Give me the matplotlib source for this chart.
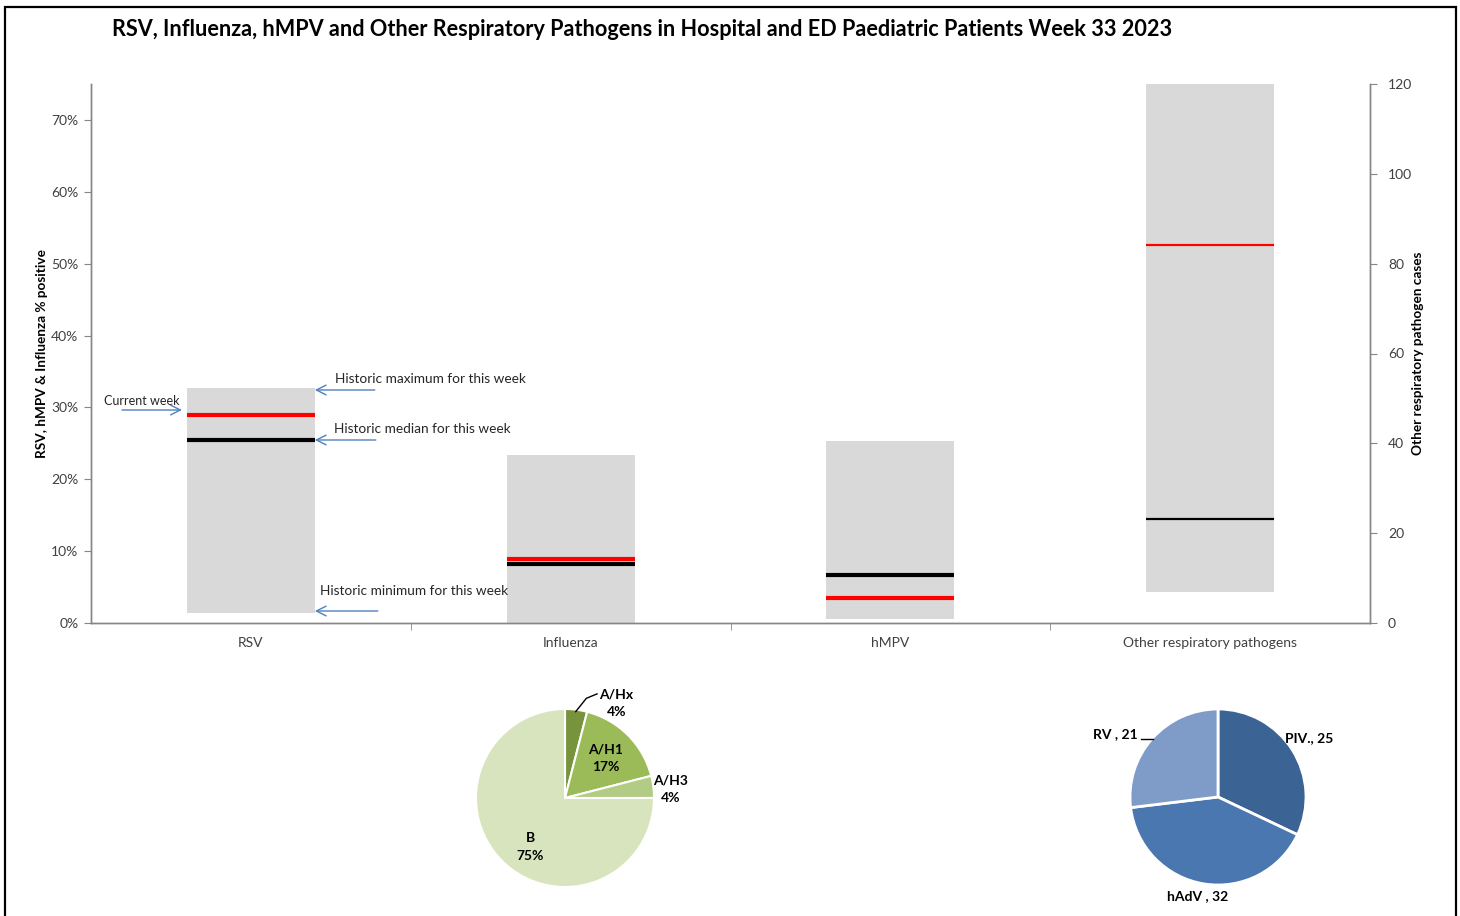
import matplotlib
matplotlib.use("Agg")
import matplotlib.pyplot as plt
from matplotlib.patches import Rectangle
from matplotlib.ticker import FixedLocator, PercentFormatter

plt.rcParams['font.family'] = ['Lato', 'DejaVu Sans']

# ---------------- data ----------------
categories = ["RSV", "Influenza", "hMPV", "Other respiratory pathogens"]
pct_min = [0.014, 0.000, 0.006]        # RSV, Influenza, hMPV (left axis)
pct_max = [0.327, 0.234, 0.253]
pct_median = [0.255, 0.082, 0.067]
pct_current = [0.289, 0.089, 0.035]
other_min = 6.9                         # right axis (cases)
other_max = 120
other_median = 23.2
other_current = 84.2

flu_labels = ["A/Hx", "A/H1", "A/H3", "B"]
flu_values = [4, 17, 4, 75]
flu_colors = ["#77933C", "#9BBB59", "#B3CC85", "#D7E4BD"]

other_labels = ["PIV.", "hAdV ", "RV "]
other_values = [25, 32, 21]
other_colors = ["#3B6495", "#4A77B0", "#7F9CC9"]

W, H = 1460, 916
fig = plt.figure(figsize=(W / 100, H / 100), dpi=100)
fig.patch.set_facecolor("white")

# border
fig.add_artist(Rectangle((5 / W, -0.02), (1451) / W, (916 - 7) / H + 0.02,
                         transform=fig.transFigure, fill=False,
                         edgecolor="black", lw=1.6))

fig.text(642 / W, 1 - 29 / H,
         "RSV, Influenza, hMPV and Other Respiratory Pathogens in Hospital and ED Paediatric Patients Week 33 2023",
         ha="center", va="center", fontsize=15.6, fontweight="bold", color="black")

ax = fig.add_axes([91 / W, 1 - 623 / H, (1370 - 91) / W, (623 - 84) / H])
ax2 = ax.twinx()

grey = "#D9D9D9"
spine_c = "#868686"
txt_c = "#404040"
bw = 0.4

for i in range(3):
    ax.bar(i, pct_max[i] - pct_min[i], bottom=pct_min[i], width=bw, color=grey, zorder=1)
    lw = 3.0
    ax.hlines(pct_median[i], i - bw / 2, i + bw / 2, color="black", lw=lw, zorder=3)
    ax.hlines(pct_current[i], i - bw / 2, i + bw / 2, color="#FF0000", lw=lw, zorder=3)

ax2.bar(3, other_max - other_min, bottom=other_min, width=bw, color=grey, zorder=1)
ax2.hlines(other_median, 3 - bw / 2, 3 + bw / 2, color="black", lw=1.6, zorder=3)
ax2.hlines(other_current, 3 - bw / 2, 3 + bw / 2, color="#FF0000", lw=1.6, zorder=3)

ax.set_xlim(-0.5, 3.5)
ax.set_ylim(0, 0.75)
ax2.set_ylim(0, 120)

ax.yaxis.set_major_locator(FixedLocator([0, 0.1, 0.2, 0.3, 0.4, 0.5, 0.6, 0.7]))
ax.yaxis.set_major_formatter(PercentFormatter(1.0, decimals=0))
ax2.yaxis.set_major_locator(FixedLocator([0, 20, 40, 60, 80, 100, 120]))

ax.set_xticks(range(4))
ax.set_xticklabels(categories)
ax.xaxis.set_minor_locator(FixedLocator([0.5, 1.5, 2.5]))
ax.tick_params(axis="x", which="major", length=0, pad=10, labelsize=10, labelcolor=txt_c)
ax.tick_params(axis="x", which="minor", length=5, color=spine_c, direction="out")
ax.tick_params(axis="y", length=5, color=spine_c, labelsize=10, labelcolor=txt_c, pad=4)
ax2.tick_params(axis="y", length=5, color=spine_c, labelsize=10, labelcolor=txt_c, pad=8)

for a in (ax, ax2):
    a.spines["top"].set_visible(False)
    for s in ("left", "right", "bottom"):
        a.spines[s].set_color(spine_c)
        a.spines[s].set_linewidth(1.0)
    a.patch.set_visible(False)

ax.set_ylabel("RSV, hMPV & Influenza % positive", fontsize=9.8, fontweight="bold", color="black", labelpad=2)
ax2.set_ylabel("Other respiratory pathogen cases", fontsize=9.8, fontweight="bold", color="black", labelpad=0)

# annotations (pixel -> data helpers for placement)
def dx(px):
    return (px - 91) / 320 - 0.5

def dy(py):
    return (623 - py) / (623 - 84) * 0.75

arrow_c = "#4F81BD"
ap = dict(arrowstyle="->,head_length=0.7,head_width=0.35", color=arrow_c, lw=1.0, shrinkA=0, shrinkB=0)
ax.annotate("", xy=(dx(182), dy(410)), xytext=(dx(122), dy(410)), arrowprops=ap, zorder=5)
ax.text(dx(104), dy(401), "Current week", ha="left", va="center", fontsize=9, color="#262626")

ax.annotate("", xy=(dx(315), dy(390)), xytext=(dx(375), dy(390)), arrowprops=ap, zorder=5)
ax.text(dx(335), dy(379), "Historic maximum for this week", ha="left", va="center", fontsize=9.8, color="#262626")

ax.annotate("", xy=(dx(315), dy(440)), xytext=(dx(376), dy(440)), arrowprops=ap, zorder=5)
ax.text(dx(334), dy(429), "Historic median for this week", ha="left", va="center", fontsize=9.8, color="#262626")

ax.annotate("", xy=(dx(315), dy(611)), xytext=(dx(378), dy(611)), arrowprops=ap, zorder=5)
ax.text(dx(320), dy(591), "Historic minimum for this week", ha="left", va="center", fontsize=9.8, color="#262626")

# ---------------- influenza pie ----------------
r1 = 89
pa = fig.add_axes([(565 - r1) / W, (916 - 798 - r1) / H, 2 * r1 / W, 2 * r1 / H])
pa.pie(flu_values, colors=flu_colors, startangle=90, counterclock=False,
       wedgeprops=dict(edgecolor="white", linewidth=1.5))
pa.set_xlim(-1, 1); pa.set_ylim(-1, 1); pa.set_aspect("equal"); pa.axis("off")
pct = [f"{v}%" for v in flu_values]
fs = 10
ls = 1.55
pa.text(0.58, 1.07, f"{flu_labels[0]}\n{pct[0]}", ha="center", va="center", fontsize=fs, fontweight="bold", linespacing=ls)
pa.plot([0.12, 0.24, 0.36], [0.97, 1.12, 1.17], color="black", lw=1, clip_on=False)
pa.text(0.46, 0.45, f"{flu_labels[1]}\n{pct[1]}", ha="center", va="center", fontsize=fs, fontweight="bold", linespacing=ls)
pa.text(1.19, 0.10, f"{flu_labels[2]}\n{pct[2]}", ha="center", va="center", fontsize=fs, fontweight="bold", linespacing=ls)
pa.text(-0.39, -0.55, f"{flu_labels[3]}\n{pct[3]}", ha="center", va="center", fontsize=fs, fontweight="bold", linespacing=ls)

# ---------------- other pathogens pie ----------------
r2 = 88
pb = fig.add_axes([(1218 - r2) / W, (916 - 797 - r2) / H, 2 * r2 / W, 2 * r2 / H])
pb.pie(other_values, colors=other_colors, startangle=90, counterclock=False,
       wedgeprops=dict(edgecolor="white", linewidth=2))
pb.set_xlim(-1, 1); pb.set_ylim(-1, 1); pb.set_aspect("equal"); pb.axis("off")
pb.text(0.76, 0.67, f"{other_labels[0]}, {other_values[0]}", ha="left", va="center", fontsize=fs, fontweight="bold")
pb.text(-0.23, -1.125, f"{other_labels[1]}, {other_values[1]}", ha="center", va="center", fontsize=fs, fontweight="bold")
pb.text(-0.91, 0.72, f"{other_labels[2]}, {other_values[2]}", ha="right", va="center", fontsize=fs, fontweight="bold")
pb.plot([-0.88, -0.74], [0.66, 0.66], color="black", lw=1, clip_on=False)

fig.savefig("out.png", dpi=100)
